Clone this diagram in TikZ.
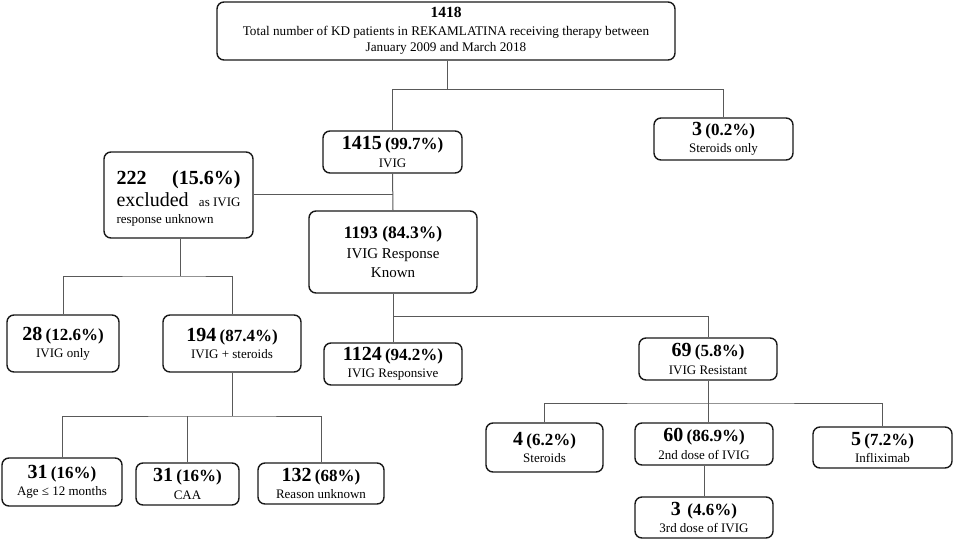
\documentclass[tikz,border=0pt]{standalone}
\usepackage{fontspec}
\setmainfont{Liberation Serif}
\newcommand{\nb}[1]{{\fontsize{20}{20}\selectfont\bfseries #1}}
\newcommand{\pb}[1]{{\fontsize{17}{17}\selectfont\bfseries #1}}
\newcommand{\lb}[1]{{\fontsize{13}{16}\selectfont #1}}
\begin{document}
\begin{tikzpicture}[x=1pt,y=-1pt,
  box/.style={draw=black!90, line width=1.4pt, rounded corners=7pt, align=center, inner sep=0pt, fill=white,
    font=\fontsize{13}{17.5}\selectfont},
  conn/.style={draw=black!65, line width=1pt}]
\useasboundingbox (0,0) rectangle (957,543);
% nodes
\node[box, minimum width=458pt, minimum height=58pt, font=\fontsize{13.2}{16}\selectfont] (top) at (446,31)
  {{\fontsize{15.5}{17}\selectfont\bfseries 1418}\\[2pt]
   Total number of KD patients in REKAMLATINA receiving therapy between\\ January 2009 and March 2018};
\node[box, minimum width=139pt, minimum height=42pt] (n1415) at (392.5,152)
  {\nb{1415} \pb{(99.7\%)}\\\lb{IVIG}};
\node[box, minimum width=139pt, minimum height=42pt] (s3) at (723.5,139)
  {\nb{3} \pb{(0.2\%)}\\\lb{Steroids only}};
\node[box, minimum width=149pt, minimum height=86pt] (n222) at (178.5,195)
  {\begin{minipage}{124pt}\vspace*{7pt}\fontsize{20}{22}\selectfont
   \textbf{222}\hfill\textbf{(15.6\%)}\\
   excluded\hfill{\fontsize{13}{15}\selectfont as IVIG}\\[-5pt]
   {\fontsize{13}{15}\selectfont response unknown}\end{minipage}};
\node[box, minimum width=168pt, minimum height=82pt, font=\fontsize{15}{18.5}\selectfont] (n1193) at (393,252)
  {{\fontsize{17.5}{20}\selectfont\bfseries 1193 (84.3\%)}\\[1.5pt]
   IVIG Response\\Known};
\node[box, minimum width=112pt, minimum height=57pt] (n28) at (63,343.5)
  {\nb{28} \pb{(12.6\%)}\\\lb{IVIG only}};
\node[box, minimum width=138pt, minimum height=57pt] (n194) at (232,343.5)
  {\nb{194} \pb{(87.4\%)}\\\lb{IVIG + steroids}};
\node[box, minimum width=138pt, minimum height=42pt] (n1124) at (393,364)
  {\nb{1124} \pb{(94.2\%)}\\\lb{IVIG Responsive}};
\node[box, minimum width=138pt, minimum height=42pt] (n69) at (708,359)
  {\nb{69} \pb{(5.8\%)}\\\lb{IVIG Resistant}};
\node[box, minimum width=117pt, minimum height=49pt] (n4) at (544.5,447.5)
  {\nb{4} \pb{(6.2\%)}\\\lb{Steroids}};
\node[box, minimum width=138pt, minimum height=42pt] (n60) at (704,444)
  {\nb{60} \pb{(86.9\%)}\\\lb{2nd dose of IVIG}};
\node[box, minimum width=139pt, minimum height=41pt] (n5) at (882.5,447.5)
  {\nb{5} \pb{(7.2\%)}\\\lb{Infliximab}};
\node[box, minimum width=138pt, minimum height=41pt] (n3b) at (704,517.5)
  {\nb{3}\ \ \pb{(4.6\%)}\\\lb{3rd dose of IVIG}};
\node[box, minimum width=120pt, minimum height=48pt] (n31) at (62,482)
  {\nb{31} \pb{(16\%)}\\\lb{Age ≤ 12 months}};
\node[box, minimum width=103pt, minimum height=42pt] (caa) at (187.5,484)
  {\nb{31} \pb{(16\%)}\\\lb{CAA}};
\node[box, minimum width=126pt, minimum height=41pt] (n132) at (321,483.5)
  {\nb{132} \pb{(68\%)}\\\lb{Reason unknown}};
% junctions
\coordinate (j1) at (447,89);
\coordinate (j2) at (180,276);
\coordinate (j3) at (393,316);
\coordinate (j4) at (708,403);
\coordinate (j5) at (232,416);
% connectors
\draw[conn] (top.south -| j1) -- (j1);
\draw[conn] (n1415.north) -- (n1415.north |- j1) -| (s3.north);
\draw[conn] (n1415.south) -- (n1193.north);
\draw[conn] (n222.east |- 0,194) -- (n1415.south |- 0,194);
\draw[conn] (n222.south -| j2) -- (j2);
\draw[conn] (n28.north) |- (j2) -| (n194.north);
\draw[conn] (n1193.south) -- (n1124.north);
\draw[conn] (j3) -| (n69.north);
\draw[conn] (n69.south) -- (n69.south |- n60.north);
\draw[conn] (n4.north) |- (j4) -| (n5.north);
\draw[conn] (n60.south) -- (n3b.north);
\draw[conn] (n194.south) -- (j5);
\draw[conn] (n31.north) |- (j5) -| (n132.north);
\draw[conn] (caa.north) -- (caa.north |- j5);
\end{tikzpicture}
\end{document}
